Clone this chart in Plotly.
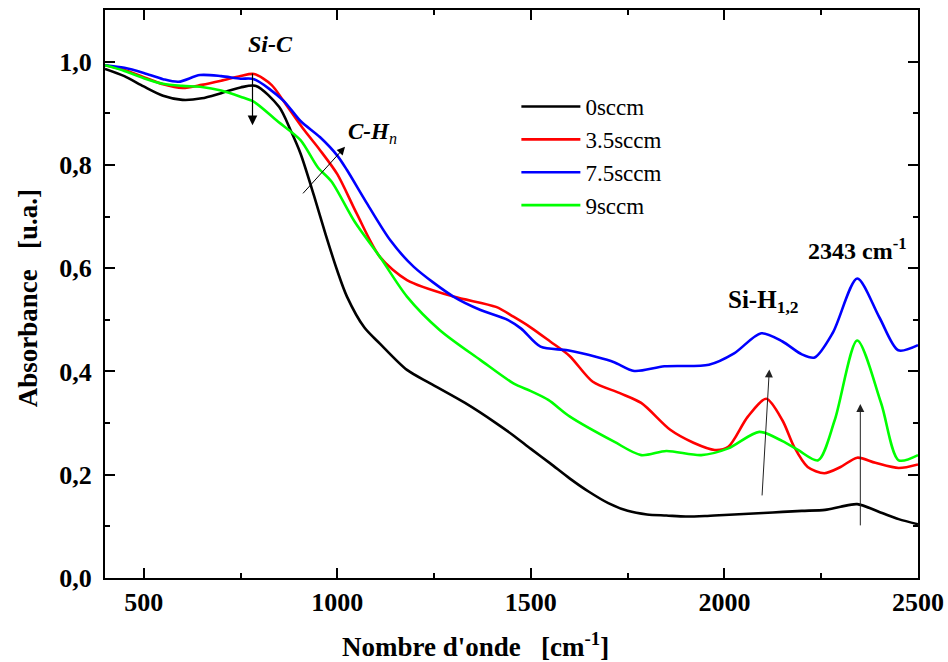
import plotly.graph_objects as go

# FTIR absorbance spectra for four gas flow rates
wn_0 = [400, 450, 500, 550, 600, 650, 700, 750, 790, 850, 880, 905, 940, 970, 1000, 1025, 1070,
        1110, 1180, 1240, 1330, 1410, 1455, 1500, 1550, 1600, 1650, 1700, 1750, 1800, 1850,
        1900, 1950, 2000, 2050, 2100, 2150, 2200, 2260, 2300, 2343, 2400, 2450, 2500]
abs_0 = [0.986, 0.972, 0.952, 0.934, 0.926, 0.929, 0.939, 0.950, 0.953, 0.912, 0.866, 0.822, 0.740,
         0.665, 0.595, 0.545, 0.485, 0.454, 0.403, 0.377, 0.339, 0.300, 0.276, 0.250, 0.222,
         0.193, 0.167, 0.145, 0.130, 0.123, 0.121, 0.119, 0.120, 0.122, 0.124, 0.126, 0.128,
         0.130, 0.132, 0.138, 0.143, 0.128, 0.114, 0.104]

wn_35 = [400, 450, 500, 550, 600, 650, 700, 750, 785, 830, 860, 915, 955, 1000, 1050, 1110,
         1180, 1300, 1410, 1455, 1500, 1550, 1600, 1660, 1730, 1785, 1860, 1920, 1975, 2010,
         2060, 2108, 2150, 2180, 2215, 2258, 2300, 2343, 2390, 2450, 2500]
abs_35 = [0.993, 0.984, 0.970, 0.956, 0.949, 0.955, 0.963, 0.972, 0.976, 0.955, 0.925, 0.867,
          0.829, 0.782, 0.706, 0.622, 0.577, 0.545, 0.525, 0.506, 0.485, 0.458, 0.430, 0.380,
          0.358, 0.339, 0.287, 0.262, 0.248, 0.254, 0.312, 0.347, 0.305, 0.254, 0.215, 0.203,
          0.215, 0.233, 0.223, 0.213, 0.220]

wn_75 = [400, 450, 500, 550, 590, 645, 700, 750, 785, 860, 905, 955, 1000, 1025, 1077, 1137,
         1197, 1300, 1370, 1440, 1475, 1525, 1595, 1670, 1715, 1767, 1845, 1960, 2025, 2095,
         2150, 2200, 2233, 2280, 2343, 2400, 2449, 2500]
abs_75 = [0.993, 0.988, 0.978, 0.966, 0.961, 0.974, 0.972, 0.967, 0.966, 0.925, 0.885, 0.854,
          0.818, 0.790, 0.725, 0.654, 0.603, 0.545, 0.519, 0.500, 0.483, 0.448, 0.441, 0.428,
          0.418, 0.401, 0.410, 0.413, 0.435, 0.474, 0.458, 0.433, 0.427, 0.475, 0.580, 0.505,
          0.441, 0.451]

wn_9 = [400, 450, 500, 550, 600, 650, 700, 750, 785, 845, 905, 950, 985, 1045, 1110, 1180,
        1265, 1370, 1455, 1500, 1545, 1600, 1715, 1785, 1850, 1940, 2010, 2090, 2150, 2190,
        2242, 2285, 2343, 2405, 2450, 2500]
abs_9 = [0.993, 0.982, 0.968, 0.957, 0.953, 0.951, 0.944, 0.932, 0.922, 0.885, 0.848, 0.795,
         0.768, 0.690, 0.622, 0.545, 0.480, 0.422, 0.377, 0.362, 0.345, 0.313, 0.264, 0.238,
         0.246, 0.238, 0.251, 0.283, 0.265, 0.248, 0.228, 0.306, 0.460, 0.338, 0.228, 0.238]

series_names = ["0sccm", "3.5sccm", "7.5sccm", "9sccm"]
series_colors = ["#000000", "#ff0000", "#0000ff", "#00ff00"]
series_x = [wn_0, wn_35, wn_75, wn_9]
series_y = [abs_0, abs_35, abs_75, abs_9]

x_ticks = [500, 1000, 1500, 2000, 2500]
y_ticks = [0.0, 0.2, 0.4, 0.6, 0.8, 1.0]

SERIF = "Liberation Serif, Times New Roman, serif"

fig = go.Figure()
for name, color, xs, ys in zip(series_names, series_colors, series_x, series_y):
    fig.add_trace(go.Scatter(x=xs, y=ys, mode="lines", name=name,
                             line=dict(color=color, width=2.6, shape="spline", smoothing=0.8)))

axis_common = dict(
    showline=True, linecolor="black", linewidth=2, mirror="ticks",
    ticks="inside", ticklen=10, tickwidth=2, tickcolor="black",
    showgrid=False, zeroline=False, automargin=False,
    tickfont=dict(family=SERIF, size=26, color="black", weight="bold"),
)

fig.update_xaxes(range=[400, 2500], tickvals=x_ticks, tickformat="d",
                 minor=dict(dtick=250, tick0=0, ticklen=5, tickwidth=1.5, tickcolor="black",
                            ticks="inside", showgrid=False),
                 **axis_common)
fig.update_yaxes(range=[0, 1.1], tickvals=y_ticks, tickformat=".1f", ticklabelstandoff=6,
                 minor=dict(dtick=0.1, tick0=0, ticklen=5, tickwidth=1.5, tickcolor="black",
                            ticks="inside", showgrid=False),
                 **axis_common)

annotations = [
    # axis titles
    dict(text="Nombre d'onde\u00a0\u00a0\u00a0[cm<sup>-1</sup>]", xref="paper", yref="paper",
         x=0.456, y=-0.118, showarrow=False, xanchor="center", yanchor="middle",
         font=dict(family=SERIF, size=27, color="black", weight="bold")),
    dict(text="Absorbance\u00a0\u00a0\u00a0[u.a.]", xref="paper", yref="paper",
         x=-0.095, y=0.492, showarrow=False, textangle=-90, xanchor="center", yanchor="middle",
         font=dict(family=SERIF, size=27, color="black", weight="bold")),
    # band labels
    dict(text="<i>Si-C</i>", x=828, y=1.035, showarrow=False,
         font=dict(family=SERIF, size=24, color="black", weight="bold")),
    dict(text="<i>C-H</i><sub><i><span style='font-weight:normal'>n</span></i></sub>",
         x=1090, y=0.862, showarrow=False,
         font=dict(family=SERIF, size=23, color="black", weight="bold")),
    dict(text="Si-H<sub>1,2</sub>", x=2102, y=0.535, showarrow=False,
         font=dict(family=SERIF, size=25, color="black", weight="bold")),
    dict(text="2343 cm<sup>-1</sup>", x=2343, y=0.638, showarrow=False,
         font=dict(family=SERIF, size=24, color="black", weight="bold")),
    # arrows indicating band trends
    dict(x=781, y=0.877, ax=781, ay=0.98, axref="x", ayref="y", text="", showarrow=True,
         arrowhead=2, arrowsize=1.6, arrowwidth=1.2, arrowcolor="black"),
    dict(x=1020, y=0.835, ax=908, ay=0.742, axref="x", ayref="y", text="", showarrow=True,
         arrowhead=2, arrowsize=1.6, arrowwidth=1.0, arrowcolor="black"),
    dict(x=2116, y=0.404, ax=2097, ay=0.157, axref="x", ayref="y", text="", showarrow=True,
         arrowhead=2, arrowsize=1.6, arrowwidth=1.0, arrowcolor="#222222"),
    dict(x=2351, y=0.337, ax=2351, ay=0.099, axref="x", ayref="y", text="", showarrow=True,
         arrowhead=2, arrowsize=1.6, arrowwidth=1.0, arrowcolor="#222222"),
]

fig.update_layout(
    width=948, height=662,
    margin=dict(l=105, r=30, t=10, b=84),
    paper_bgcolor="white", plot_bgcolor="white",
    separators=", ",
    showlegend=True,
    legend=dict(x=0.506, y=0.868, xanchor="left", yanchor="top", itemwidth=59,
                bgcolor="rgba(0,0,0,0)", borderwidth=0,
                font=dict(family=SERIF, size=23, color="black")),
    annotations=annotations,
)

fig.write_html("out.html")
